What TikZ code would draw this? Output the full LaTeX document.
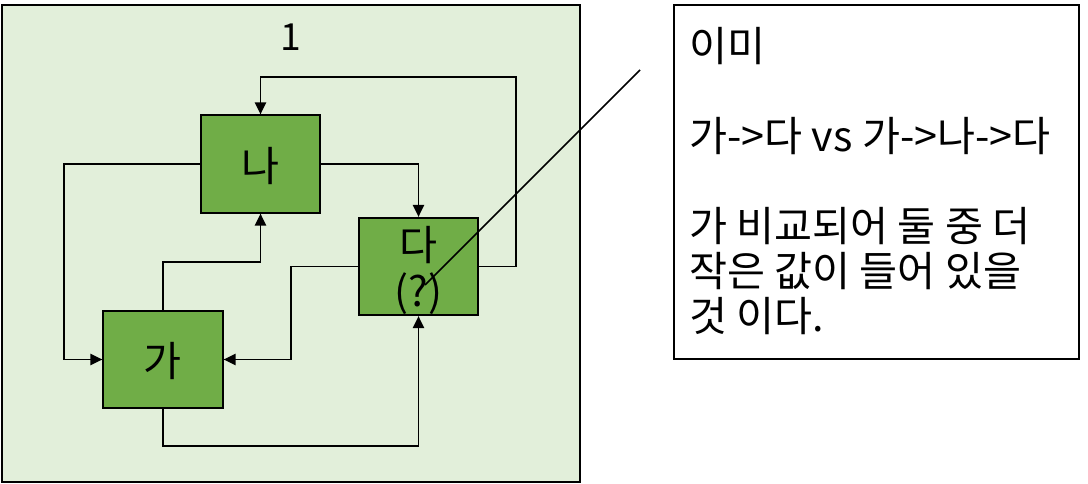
\documentclass[tikz,border=0pt]{standalone}
\usepackage{fontspec}
\setmainfont{Noto Sans CJK KR}
\usetikzlibrary{arrows.meta}
\definecolor{paleGreen}{RGB}{226,239,218}
\definecolor{leafGreen}{RGB}{112,173,71}

\begin{document}
\begin{tikzpicture}[x=0.75pt,y=-0.75pt,
  bigtext/.style={font=\fontsize{31pt}{34pt}\selectfont},
  stepbox/.style={bigtext, draw=black, fill=leafGreen, line width=1.5pt,
    minimum width=89.5pt, minimum height=73pt, inner sep=0pt, align=center,
    text depth=0pt},
  flow/.style={black, line width=1.1pt, -{Triangle[length=9pt, width=8.5pt]}},
  wire/.style={black, line width=1.1pt}]
\useasboundingbox (0,0) rectangle (1088,484);
% group frame
\filldraw[fill=paleGreen, draw=black, line width=1.5pt] (2,5) rectangle (580,482);
\node[font=\fontsize{28pt}{34pt}\selectfont] (groupLabel) at (291,37) {1};
% the three steps
\node[stepbox] (boxNa) at (260.5,164) {나};
\node[stepbox] (boxDa) at (418.5,266.5) {다\\[1pt](?)};
\node[stepbox] (boxGa) at (163,359.5) {가};
\coordinate (topTurn) at (516,77);
\draw[flow] (boxNa.east) -| (boxDa.north);
\draw[flow] (boxNa.west) -- ++(-136,0) |- (boxGa.west);
\draw[flow] (boxGa.north) -- ++(0,-48) -| (boxNa.south);
\draw[flow] (boxDa.west) -- ++(-67,0) |- (boxGa.east);
\draw[flow] (boxGa.south) -- ++(0,37) -| (boxDa.south);
\draw[flow] (boxDa.east) -| (topTurn) -| (boxNa.north);
% callout
\coordinate (calloutTip) at (425,285);
\coordinate (calloutEnd) at (640,70);
\draw[wire] (calloutTip) -- (calloutEnd);
\draw[black, line width=1.5pt] (674,5) rectangle (1079,359);
\node[font=\fontsize{31pt}{33.75pt}\selectfont, anchor=north west, align=left,
  inner sep=0pt] (noteText) at (689,27)
  {이미\\[33.75pt]가->다 vs 가->나->다\\[33.75pt]가 비교되어 둘 중 더\\작은 값이 들어 있을\\것 이다.};
\end{tikzpicture}
\end{document}
